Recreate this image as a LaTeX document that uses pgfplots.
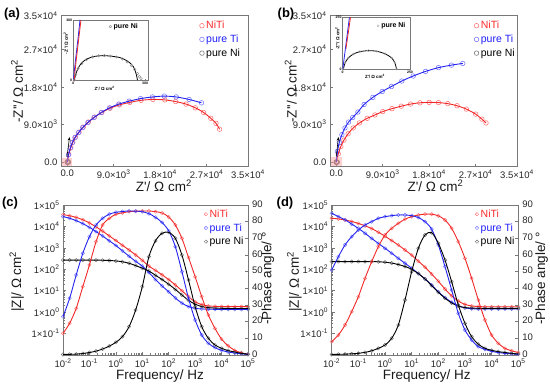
\documentclass[border=0pt]{standalone}
\usepackage{pgfplots}
\pgfplotsset{compat=1.18}
\usepackage{pgfplotstable}
\usepackage{fontspec}
\setmainfont{Liberation Sans}
\usetikzlibrary{arrows.meta}

\definecolor{lred}{RGB}{240,40,40}
\definecolor{lblue}{RGB}{35,35,240}
\definecolor{mred}{RGB}{255,115,115}
\definecolor{mblue}{RGB}{115,115,255}
\definecolor{mgray}{RGB}{115,115,115}
\definecolor{framegray}{RGB}{120,120,120}
\definecolor{tred}{RGB}{250,40,40}
\definecolor{tblue}{RGB}{30,30,250}

% Nyquist data (a)
\pgfplotstableread{
x y
0 0
300 1900
700 3500
1100 4800
1600 6000
2300 7200
3100 8400
4100 9600
5300 10800
6700 11900
8300 12900
10100 13700
12100 14300
14300 14800
16600 15000
18900 14900
21000 14500
23000 13900
24800 13000
26400 11900
27800 10500
28800 9300
29500 7900
}\nyaR
\pgfplotstableread{
x y
0 0
250 1800
600 3400
1000 4700
1500 5900
2200 7100
3000 8300
4000 9500
5200 10700
6600 11900
8200 13000
10000 13900
12000 14600
14200 15200
16500 15600
18800 15800
21100 15600
23600 15000
26000 14200
}\nyaB
% Nyquist data (b)
\pgfplotstableread{
x y
0 0
400 2000
900 3800
1500 5300
2300 6800
3300 8200
4500 9400
6000 10500
7500 11300
9000 12100
10800 12800
12600 13400
14400 13900
16200 14200
18000 14300
19800 14250
21600 14000
23400 13500
25200 12700
27000 11500
28200 10300
29000 9400
}\nybR
\pgfplotstableread{
x y
0 0
250 2600
600 4700
1100 6600
1700 8200
2400 9600
3200 10700
4200 12000
5400 13800
7100 15500
8900 16900
10700 18100
12700 19400
14900 20600
17300 21700
19800 22600
22300 23200
24500 23600
}\nybB
% Bode data (c)
\pgfplotstableread{
f        zr      zb      zk     pr    pb    pk
0.01     3.55e4  2.88e4  269    13    23    0.3
0.0178   3.16e4  2.40e4  269    19    34    0.4
0.0316   2.63e4  1.86e4  269    28    48    0.5
0.0562   2.04e4  1.35e4  269    41    61    0.9
0.1      1.45e4  9.12e3  269    54    71    1.5
0.178    9.55e3  5.75e3  269    68    78    2.3
0.316    6.03e3  3.55e3  263    78    82    3.6
0.562    3.63e3  2.14e3  257    82    84.5  5.3
1        2.19e3  1.29e3  245    84.4  85.6  7.6
1.78     1.32e3  724     224    85.3  86.1  11
3.16     794     407     191    86    86.4  17
5.62     468     234     148    86.3  86.3  27
10       263     141     112    86.4  86    41
17.8     141     70.8    83.2   86.4  84.8  59
31.6     89.1    33.1    52.5   86    82.6  68.5
56.2     55.0    16.6    33.1   85.2  79.5  73
100      33.1    8.91    20.0   82.8  74.5  73.6
178      18.6    4.57    11.5   78    65    70
316      10.0    2.63    6.31   70    50    60
562      5.25    1.82    3.55   58.5  34    45
1000     3.02    1.51    2.34   47    21    29
1778     2.24    1.41    1.82   35    12    17
3162     1.95    1.38    1.62   24    7     10
5623     1.86    1.35    1.55   16    4.4   6
1e4      1.82    1.35    1.51   9.5   2.8   4
17783    1.82    1.35    1.48   5.5   1.8   2.6
31623    1.82    1.35    1.48   2.8   1.2   1.8
56234    1.82    1.35    1.48   1.3   0.7   1
1e5      1.82    1.35    1.48   0.4   0.4   0.5
}\bodec
% Bode data (d)
\pgfplotstableread{
f        zr      zb      zk     pr    pb    pk
0.01     2.40e4  4.07e4  229    8     51    0.3
0.0178   2.24e4  2.88e4  229    12    59    0.4
0.0316   2.00e4  2.04e4  229    18    66    0.5
0.0562   1.70e4  1.29e4  229    26    71    0.7
0.1      1.38e4  8.13e3  229    35    75    1
0.178    1.07e4  4.79e3  229    46    78    1.6
0.316    7.94e3  2.75e3  229    56    80    2.5
0.562    5.37e3  1.62e3  224    65    82    4
1        3.47e3  955     214    72    83    6
1.78     2.19e3  562     195    76    83.6  10
3.16     1.35e3  324     166    79    84    18
5.62     794     191     135    81.5  84    33
10       457     112     100    83    83.6  50
17.8     240     63.1    63.1   84    82.5  64
31.6     126     35.5    35.5   84.5  80    72
56.2     60.3    18.6    17.4   84.5  75.5  73.4
100      27.5    8.91    8.51   83.5  66    67
178      12.0    4.79    4.47   81    53    57
316      5.75    2.88    2.69   76    39    44
562      3.31    2.00    1.91   68    25    30
1000     2.29    1.58    1.62   58    15    19
1778     1.95    1.45    1.55   46    9     11
3162     1.82    1.41    1.51   33    5     6.5
5623     1.78    1.41    1.51   21    3.4   4
1e4      1.78    1.41    1.51   12    2.2   2.8
17783    1.78    1.41    1.51   7     1.5   2
31623    1.78    1.41    1.51   4     1     1.5
56234    1.78    1.41    1.51   2.5   0.7   1
1e5      1.78    1.41    1.51   1.5   0.4   0.6
}\boded

\pgfplotsset{
  /pgf/number format/assume math mode=true,
  legend image code/.code={\draw[#1] plot coordinates {(0.1cm,0cm)};},
  myaxis/.style={scale only axis, anchor=south west,
    axis line style={framegray, line width=0.75pt},
    every tick/.style={framegray, line width=0.55pt},
    major tick length=3pt, minor tick length=1.6pt, tick align=inside,
    ticklabel style={font=\fontsize{9.5}{10}\selectfont, text=black!85},
    label style={font=\fontsize{13.5}{15}\selectfont, text=black!90},
    scaled ticks=false,
    clip mode=individual},
  nymark/.style={only marks, mark=o, mark size=2.3pt, mark options={line width=0.55pt}},
  bomark/.style={only marks, mark=o, mark size=1.7pt, mark options={line width=0.45pt}},
  fitline/.style={smooth, line width=0.9pt, no marks},
  mylegend/.style={legend style={draw=none, fill=none, font=\fontsize{10.5}{12}\selectfont,
      inner sep=1pt, row sep=0.6pt}, legend cell align=left},
  nyq/.style={myaxis, width=187pt, height=151pt,
    xmin=-1200, xmax=35000, ymin=-1050, ymax=35000,
    xtick={0,9000,18000,27000,35000},
    xticklabels={0.0, 9.0×10\textsuperscript{3}, 1.8×10\textsuperscript{4}, 2.7×10\textsuperscript{4}, 3.5×10\textsuperscript{4}},
    ytick={0,9000,18000,27000,35000},
    yticklabels={0.0, 9.0×10\textsuperscript{3}, 1.8×10\textsuperscript{4}, 2.7×10\textsuperscript{4}, 3.5×10\textsuperscript{4}},
    xtick pos=bottom, ytick pos=left,
    xlabel={Z\textquotesingle/ Ω cm\textsuperscript{2}},
    ylabel={-Z\textquotesingle\textquotesingle/ Ω cm\textsuperscript{2}},
    mylegend,
    legend entries={\textcolor{tred}{NiTi}, \textcolor{tblue}{pure Ti}, pure Ni}},
  inset/.style={scale only axis, anchor=south west, scaled ticks=false,
    axis background/.style={fill=white},
    axis line style={framegray, line width=0.6pt},
    every tick/.style={framegray, line width=0.4pt}, major tick length=1.5pt,
    ticklabel style={font=\bfseries\fontsize{3.5}{4}\selectfont, inner sep=1pt},
    label style={font=\bfseries\fontsize{4.5}{5}\selectfont, inner sep=0pt},
    xtick pos=bottom, ytick pos=left,
    xlabel={Z\textquotesingle/ Ω cm\textsuperscript{2}},
    ylabel={-Z\textquotesingle\textquotesingle/ Ω cm\textsuperscript{2}},
    legend style={draw=none, fill=none, font=\bfseries\fontsize{7}{8}\selectfont, inner sep=0.5pt},
    legend entries={pure Ni}},
  bodeone/.style={myaxis, height=150pt,
    xmin=1e-2, xmax=1e5, ymin=1e-2, ymax=1e5,
    xtick={1e-2,1e-1,1,10,100,1000,1e4,1e5},
    xticklabels={10\textsuperscript{-2},10\textsuperscript{-1},10\textsuperscript{0},10\textsuperscript{1},10\textsuperscript{2},10\textsuperscript{3},10\textsuperscript{4},10\textsuperscript{5}},
    xticklabel style={yshift=-0.8pt},
    ytick={1e-1,1,10,100,1000,1e4,1e5},
    yticklabels={1×10\textsuperscript{-1},1×10\textsuperscript{0},1×10\textsuperscript{1},1×10\textsuperscript{2},1×10\textsuperscript{3},1×10\textsuperscript{4},1×10\textsuperscript{5}},
    xtick pos=bottom, ytick pos=left,
    xlabel={Frequency/ Hz},
    ylabel={|Z|/ Ω cm\textsuperscript{2}},
    mylegend,
    legend entries={\textcolor{tred}{NiTi}, \textcolor{tblue}{pure Ti}, pure Ni}},
  bodetwo/.style={myaxis, height=150pt,
    xmin=1e-2, xmax=1e5, ymin=0, ymax=90,
    ytick={0,10,20,30,40,50,60,70,80,90},
    yticklabel style={yshift=1pt, xshift=0.5pt},
    axis y line*=right, axis x line=none,
    ylabel={-Phase angle/ °}},
}

\begin{document}
\begin{tikzpicture}
\useasboundingbox (0pt,0pt) rectangle (550pt,387pt);

% ---------------- (a) ----------------
\begin{axis}[nyq, at={(61pt,220.3pt)},
  xlabel style={at={(axis description cs:0.55,-0.127)}, anchor=center},
  ylabel style={at={(axis description cs:-0.235,0.5)}, anchor=center},
  legend style={at={(axis description cs:0.735,0.985)}, anchor=north west}]
\addplot[nymark, color=mred] table {\nyaR};
\addplot[nymark, color=mblue] table {\nyaB};
\addplot[nymark, color=mgray] coordinates {(20,60) (60,110) (130,125) (200,100) (260,30)};
\addplot[fitline, lred, forget plot] table {\nyaR};
\addplot[fitline, lblue, forget plot] table {\nyaB};
\fill[red!40, opacity=0.45] (axis cs:-1000,-1000) rectangle (axis cs:1000,1100);
\draw[-{Stealth[length=3.5pt,width=3pt]}, line width=0.6pt] (axis cs:-50,1300) -- (axis cs:450,6000);
\end{axis}

\begin{axis}[inset, at={(73.3pt,306.3pt)}, width=74.7pt, height=60.7pt,
  xmin=0, xmax=312, ymin=0, ymax=300, xtick={0,300}, ytick={0,300},
  xlabel style={at={(axis description cs:0.42,-0.13)}, anchor=center},
  ylabel style={at={(axis description cs:-0.1,0.62)}, anchor=center},
  legend style={at={(axis description cs:0.47,0.99)}, anchor=north west}]
\addplot[only marks, mark=o, mark size=1.3pt, color=black!45, mark options={line width=0.4pt}] coordinates {
(4,3) (10,30) (20,60) (35,85) (55,104) (80,117) (105,123) (130,124) (155,122) (180,117) (205,107) (225,93) (243,75) (257,55) (268,35) (276,20) (283,10)};
\addplot[smooth, black, line width=0.8pt, forget plot] coordinates {
(4,3) (14,45) (28,77) (49,102) (84,119) (126,124) (153,122) (195,114) (230,94) (251,69) (262,36) (268,3)};
\addplot[lblue, line width=0.8pt, forget plot] coordinates {(0,0) (9,100) (19,200) (28,300)};
\addplot[lred, line width=0.8pt, forget plot] coordinates {(3,0) (12,100) (22,200) (32,300)};
\end{axis}

% ---------------- (b) ----------------
\begin{axis}[nyq, at={(330pt,220.3pt)},
  xlabel style={at={(axis description cs:0.564,-0.127)}, anchor=center},
  ylabel style={at={(axis description cs:-0.21,0.5)}, anchor=center},
  legend style={at={(axis description cs:0.765,0.985)}, anchor=north west}]
\addplot[nymark, color=mred] table {\nybR};
\addplot[nymark, color=mblue] table {\nybB};
\addplot[nymark, color=mgray] coordinates {(20,50) (60,85) (110,90) (160,70) (200,10)};
\addplot[fitline, lred, forget plot] table {\nybR};
\addplot[fitline, lblue, forget plot] table {\nybB};
\fill[red!40, opacity=0.45] (axis cs:-1000,-1000) rectangle (axis cs:1100,1300);
\draw[-{Stealth[length=3.5pt,width=3pt]}, line width=0.6pt] (axis cs:0,1400) -- (axis cs:450,6000);
\end{axis}

\begin{axis}[inset, at={(342.7pt,317.3pt)}, width=67.3pt, height=52.4pt,
  xmin=0, xmax=250, ymin=0, ymax=250, xtick={0,250}, ytick={0,250},
  xlabel style={at={(axis description cs:0.48,-0.12)}, anchor=center},
  ylabel style={at={(axis description cs:-0.08,0.6)}, anchor=center},
  legend style={at={(axis description cs:0.5,0.95)}, anchor=north west}]
\addplot[only marks, mark=o, mark size=1.1pt, color=black!35, mark options={line width=0.35pt}] coordinates {
(2.5,3) (8.7,32) (21,56) (40,75) (64,86) (95,91) (126,88) (157,76) (182,56) (194,32) (200,3)};
\addplot[smooth, black, line width=0.8pt, forget plot] coordinates {
(2.5,3) (8.7,32) (21,56) (40,75) (64,86) (95,91) (126,88) (157,76) (182,56) (194,32) (200,3)};
\addplot[lblue, line width=0.8pt, forget plot] coordinates {(0,0) (8,80) (16,160) (25,250)};
\addplot[lred, line width=0.8pt, forget plot] coordinates {(12,100) (20,170) (29,250)};
\end{axis}

% ---------------- (c) ----------------
\begin{axis}[bodeone, xmode=log, ymode=log, width=185pt, at={(63pt,32pt)},
  xlabel style={at={(axis description cs:0.524,-0.14)}, anchor=center},
  ylabel style={at={(axis description cs:-0.25,0.49)}, anchor=center},
  legend style={at={(axis description cs:0.757,0.99)}, anchor=north west}]
\addplot[bomark, color=mred] table[x=f,y=zr] {\bodec};
\addplot[bomark, color=mblue] table[x=f,y=zb] {\bodec};
\addplot[bomark, color=mgray] table[x=f,y=zk] {\bodec};
\addplot[fitline, lred, forget plot] table[x=f,y=zr] {\bodec};
\addplot[fitline, lblue, forget plot] table[x=f,y=zb] {\bodec};
\addplot[fitline, black, forget plot] table[x=f,y=zk] {\bodec};
\end{axis}
\begin{axis}[bodetwo, xmode=log, width=185pt, at={(63pt,32pt)},
  ylabel style={at={(axis description cs:1.108,0.51)}, anchor=center}]
\addplot[bomark, color=mred] table[x=f,y=pr] {\bodec};
\addplot[bomark, color=mblue] table[x=f,y=pb] {\bodec};
\addplot[bomark, color=mgray] table[x=f,y=pk] {\bodec};
\addplot[fitline, lred] table[x=f,y=pr] {\bodec};
\addplot[fitline, lblue] table[x=f,y=pb] {\bodec};
\addplot[fitline, black] table[x=f,y=pk] {\bodec};
\end{axis}

% ---------------- (d) ----------------
\begin{axis}[bodeone, xmode=log, ymode=log, width=186.6pt, at={(331.7pt,32pt)},
  xlabel style={at={(axis description cs:0.51,-0.14)}, anchor=center},
  ylabel style={at={(axis description cs:-0.2,0.49)}, anchor=center},
  legend style={at={(axis description cs:0.763,0.99)}, anchor=north west}]
\addplot[bomark, color=mred] table[x=f,y=zr] {\boded};
\addplot[bomark, color=mblue] table[x=f,y=zb] {\boded};
\addplot[bomark, color=mgray] table[x=f,y=zk] {\boded};
\addplot[fitline, lred, forget plot] table[x=f,y=zr] {\boded};
\addplot[fitline, lblue, forget plot] table[x=f,y=zb] {\boded};
\addplot[fitline, black, forget plot] table[x=f,y=zk] {\boded};
\end{axis}
\begin{axis}[bodetwo, xmode=log, width=186.6pt, at={(331.7pt,32pt)},
  ylabel style={at={(axis description cs:1.125,0.51)}, anchor=center}]
\addplot[bomark, color=mred] table[x=f,y=pr] {\boded};
\addplot[bomark, color=mblue] table[x=f,y=pb] {\boded};
\addplot[bomark, color=mgray] table[x=f,y=pk] {\boded};
\addplot[fitline, lred] table[x=f,y=pr] {\boded};
\addplot[fitline, lblue] table[x=f,y=pb] {\boded};
\addplot[fitline, black] table[x=f,y=pk] {\boded};
\end{axis}

% panel labels
\node[font=\bfseries\fontsize{13}{14}\selectfont] at (12pt,373pt) {(a)};
\node[font=\bfseries\fontsize{13}{14}\selectfont] at (286pt,373pt) {(b)};
\node[font=\bfseries\fontsize{13}{14}\selectfont] at (10pt,184pt) {(c)};
\node[font=\bfseries\fontsize{13}{14}\selectfont] at (285pt,184pt) {(d)};
\end{tikzpicture}
\end{document}
